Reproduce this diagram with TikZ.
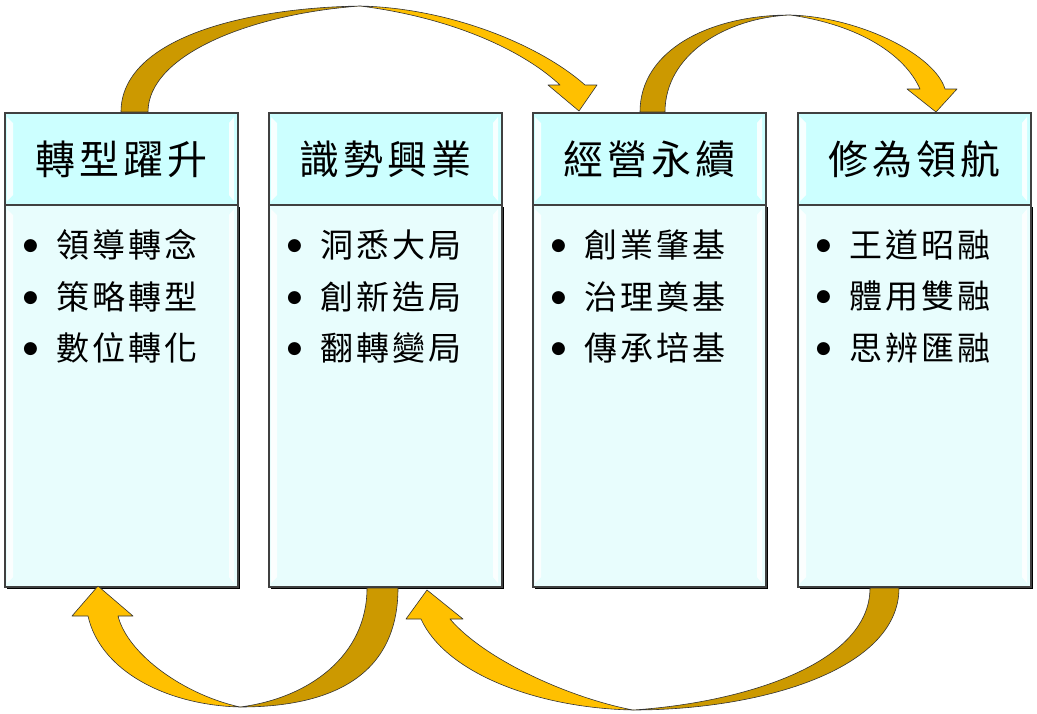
\documentclass[tikz,border=0pt]{standalone}
\usepackage{fontspec}
\usepackage{xcolor}
\usetikzlibrary{positioning,shadows}
\newfontfamily\cjk[LetterSpace=10]{Noto Sans CJK TC}
\newfontfamily\symfont{DejaVu Sans}
\newcommand{\bulletdot}{\raisebox{7pt}{\symfont\fontsize{17}{17}\selectfont ●}}
\definecolor{headfill}{HTML}{CCFFFF}
\definecolor{bodyfill}{HTML}{E8FDFD}
\definecolor{goldlight}{HTML}{FFC000}
\definecolor{golddark}{HTML}{CC9900}

\begin{document}
\begin{tikzpicture}[x=1pt, y=-1pt,
  head/.style={draw=black!75, line width=1.1pt, fill=headfill, minimum width=233pt, minimum height=92pt, outer sep=0pt, inner sep=0pt, font=\cjk\fontsize{40}{40}\selectfont},
  body/.style={draw=black!75, line width=1.1pt, fill=bodyfill, minimum width=233pt, minimum height=382pt, outer sep=0pt, drop shadow={shadow xshift=1.5pt, shadow yshift=-1.5pt, opacity=1, fill=black}},
  item/.style={anchor=west, inner sep=0pt, font=\fontsize{33}{33}\selectfont},
  back/.style={fill=golddark, draw=black!80, line width=0.6pt, line join=round},
  front/.style={fill=goldlight, draw=black!80, line width=0.6pt, line join=round},
  shine/.style={fill=white, opacity=0.85}]
\useasboundingbox (0,0) rectangle (1037,713);

% the four columns
\node[head] (h1) at (121.5,159) {轉型躍升};
\node[head, right=31pt of h1] (h2) {識勢興業};
\node[head, right=31pt of h2] (h3) {經營永續};
\node[head, right=32pt of h3] (h4) {修為領航};
\node[body, below=0pt of h1] (b1) {};
\node[body, below=0pt of h2] (b2) {};
\node[body, below=0pt of h3] (b3) {};
\node[body, below=0pt of h4] (b4) {};

% bevel highlights
\foreach \n in {h1,h2,h3,h4,b1,b2,b3,b4} {
  \fill[shine] ([shift={(2,4)}]\n.north west) -- ([shift={(8,10)}]\n.north west) -- ([shift={(8,-10)}]\n.south west) -- ([shift={(2,-4)}]\n.south west) -- cycle;
  \fill[shine] ([shift={(-4,4)}]\n.north east) -- ([shift={(-9,10)}]\n.north east) -- ([shift={(-9,-10)}]\n.south east) -- ([shift={(-4,-4)}]\n.south east) -- cycle;
}

% bullet lists
\node[item] (i11) at ([shift={(18,40)}]b1.north west) {\bulletdot\hspace{18pt}{\cjk 領導轉念}};
\node[item, below=51.5pt of i11.west, anchor=west] (i12) {\bulletdot\hspace{18pt}{\cjk 策略轉型}};
\node[item, below=51.5pt of i12.west, anchor=west] (i13) {\bulletdot\hspace{18pt}{\cjk 數位轉化}};
\node[item] (i21) at ([shift={(18,40)}]b2.north west) {\bulletdot\hspace{18pt}{\cjk 洞悉大局}};
\node[item, below=51.5pt of i21.west, anchor=west] (i22) {\bulletdot\hspace{18pt}{\cjk 創新造局}};
\node[item, below=51.5pt of i22.west, anchor=west] (i23) {\bulletdot\hspace{18pt}{\cjk 翻轉變局}};
\node[item] (i31) at ([shift={(18,40)}]b3.north west) {\bulletdot\hspace{18pt}{\cjk 創業肇基}};
\node[item, below=51.5pt of i31.west, anchor=west] (i32) {\bulletdot\hspace{18pt}{\cjk 治理奠基}};
\node[item, below=51.5pt of i32.west, anchor=west] (i33) {\bulletdot\hspace{18pt}{\cjk 傳承培基}};
\node[item] (i41) at ([shift={(18,40)}]b4.north west) {\bulletdot\hspace{18pt}{\cjk 王道昭融}};
\node[item, below=51.5pt of i41.west, anchor=west] (i42) {\bulletdot\hspace{18pt}{\cjk 體用雙融}};
\node[item, below=51.5pt of i42.west, anchor=west] (i43) {\bulletdot\hspace{18pt}{\cjk 思辨匯融}};

% curved arrows, top
\draw[back] (121,112) .. controls (121,40) and (240,8) .. (360,6) .. controls (250,14) and (148,55) .. (148,112) -- cycle;
\draw[front] (360,6) .. controls (450,8) and (540,45) .. (585,85) -- (597,85) -- (579,111) -- (548,85) -- (560,85) .. controls (525,52) and (455,18) .. (360,6) -- cycle;
\draw[back] (640,112) .. controls (640,50) and (710,15) .. (790,15) .. controls (725,18) and (665,55) .. (665,112) -- cycle;
\draw[front] (790,15) .. controls (860,17) and (935,55) .. (945,89) -- (957,89) -- (936,112) -- (907,89) -- (920,89) .. controls (905,55) and (860,25) .. (790,15) -- cycle;

% curved arrows, bottom
\draw[back] (398,588) .. controls (398,670) and (340,707) .. (240,707) .. controls (310,698) and (367,655) .. (367,588) -- cycle;
\draw[front] (240,707) .. controls (165,705) and (100,670) .. (88,616) -- (72,616) -- (98,586) -- (133,616) -- (118,616) .. controls (128,655) and (185,695) .. (240,707) -- cycle;
\draw[back] (899,588) .. controls (899,670) and (760,710) .. (633,710) .. controls (740,703) and (870,665) .. (870,588) -- cycle;
\draw[front] (633,710) .. controls (535,708) and (445,672) .. (421,619) -- (406,619) -- (427,590) -- (463,619) -- (450,619) .. controls (485,660) and (570,698) .. (633,710) -- cycle;
\end{tikzpicture}
\end{document}
